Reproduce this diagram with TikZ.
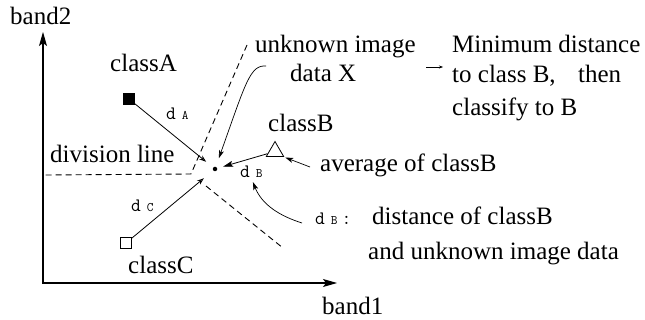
\documentclass[tikz,border=0pt]{standalone}
\usepackage{fontspec}
\setmainfont{Liberation Serif}
\newfontfamily\tnr{Liberation Serif}
\usetikzlibrary{arrows.meta,shapes.geometric}
\begin{document}
\begin{tikzpicture}[x=1pt,y=-1pt,
  txt/.style={font=\tnr\fontsize{25}{28}\selectfont, inner sep=0pt, anchor=base west},
  dlbl/.style={font=\ttfamily\fontsize{19}{20}\selectfont, inner sep=0pt, anchor=base west},
  axis/.style={line width=1.1pt, {Stealth[length=14pt,width=8pt,inset=3pt]}-{Stealth[length=14pt,width=8pt,inset=3pt]}},
  conn/.style={line width=0.8pt},
  dist/.style={conn, -{Stealth[open,length=7pt,width=5pt]}},
  sarrow/.style={conn, -{Stealth[length=10pt,width=6pt,inset=2pt]}},
  thinarrow/.style={line width=0.7pt, -{Stealth[length=8pt,width=5pt,inset=2pt]}},
  divl/.style={line width=0.9pt, dash pattern=on 6pt off 4pt}]
\useasboundingbox (0,0) rectangle (645,320);

% axes
\coordinate (ytop) at (43,32);
\coordinate (O) at (44,283);
\coordinate (xend) at (337,283);
\draw[axis] (ytop) |- (xend);
\node[txt] (band2) at (10,25) {band2};
\node[txt] (band1) at (322,315) {band1};

% division lines
\coordinate (V) at (191,174);
\coordinate (d1) at (247,45);
\coordinate (d2) at (45,175);
\coordinate (d3s) at (206,186);
\coordinate (d3) at (283,248);
\draw[divl] (d1) -- (V) -- (d2);
\draw[divl] (d3s) -- (d3);
\node[txt] (divline) at (50,163) {division line};

% class means
\node[draw, fill=black, minimum size=11pt, inner sep=0pt] (sqA) at (129,99) {};
\node[draw, line width=0.8pt, minimum size=11pt, inner sep=0pt] (sqC) at (126,243) {};
\node[draw, line width=0.8pt, regular polygon, regular polygon sides=3, minimum size=20pt, inner sep=0pt] (triB) at (275,151.5) {};
\node[circle, fill=black, inner sep=0pt, minimum size=4.5pt] (X) at (215,169) {};

\node[txt] (classA) at (110,72) {classA};
\node[txt] (classB) at (268,132) {classB};
\node[txt] (classC) at (128,274) {classC};

% distance arrows
\draw[dist, shorten >=9pt] (sqA) -- (X);
\draw[dist, shorten >=12pt] (sqC) -- (X);
\draw[sarrow, shorten >=6pt] (triB) -- (X);

\node[dlbl] (dA) at (166,120) {d\hspace{6pt}{\fontsize{13}{13}\selectfont A}};
\node[dlbl] (dC) at (131,212) {d\hspace{6pt}{\fontsize{13}{13}\selectfont C}};
\node[dlbl] (dB) at (240,178) {d\hspace{6pt}{\fontsize{13}{13}\selectfont B}};

% unknown image data X
\node[txt] (unk1) at (255,53) {unknown image};
\node[txt] (unk2) at (290,82) {data X};
\coordinate (cs) at (266,66);
\draw[thinarrow, shorten >=9pt] (cs) .. controls (250,65) and (246,82) .. (X);

% small arrow to conclusion
\coordinate (sa1) at (426,67);
\coordinate (sa2) at (443,67);
\draw[line width=0.5pt, -{Stealth[length=4pt,width=3pt]}] (sa1) -- (sa2);
\node[txt] (min1) at (452,53) {Minimum distance};
\node[txt] (min2) at (452,83) {to class B,\hspace{0.9em}then};
\node[txt] (min3) at (452,116) {classify to B};

% average of class B
\node[txt] (avg) at (320,172) {average of classB};
\coordinate (avs) at (310,167);
\draw[thinarrow] (avs) -- ([xshift=4pt,yshift=-6pt]triB.east);

% dB explanation
\node[dlbl] (dBl) at (315,225) {d\hspace{6pt}{\fontsize{13}{13}\selectfont B}\hspace{4pt}:};
\node[txt] (dist1) at (372,225) {distance of classB};
\node[txt] (dist2) at (368,260) {and unknown image data};
\coordinate (cb) at (302,223);
\draw[thinarrow, shorten >=4pt] (cb) .. controls (280,216) and (262,205) .. (dB.south);
\end{tikzpicture}
\end{document}
